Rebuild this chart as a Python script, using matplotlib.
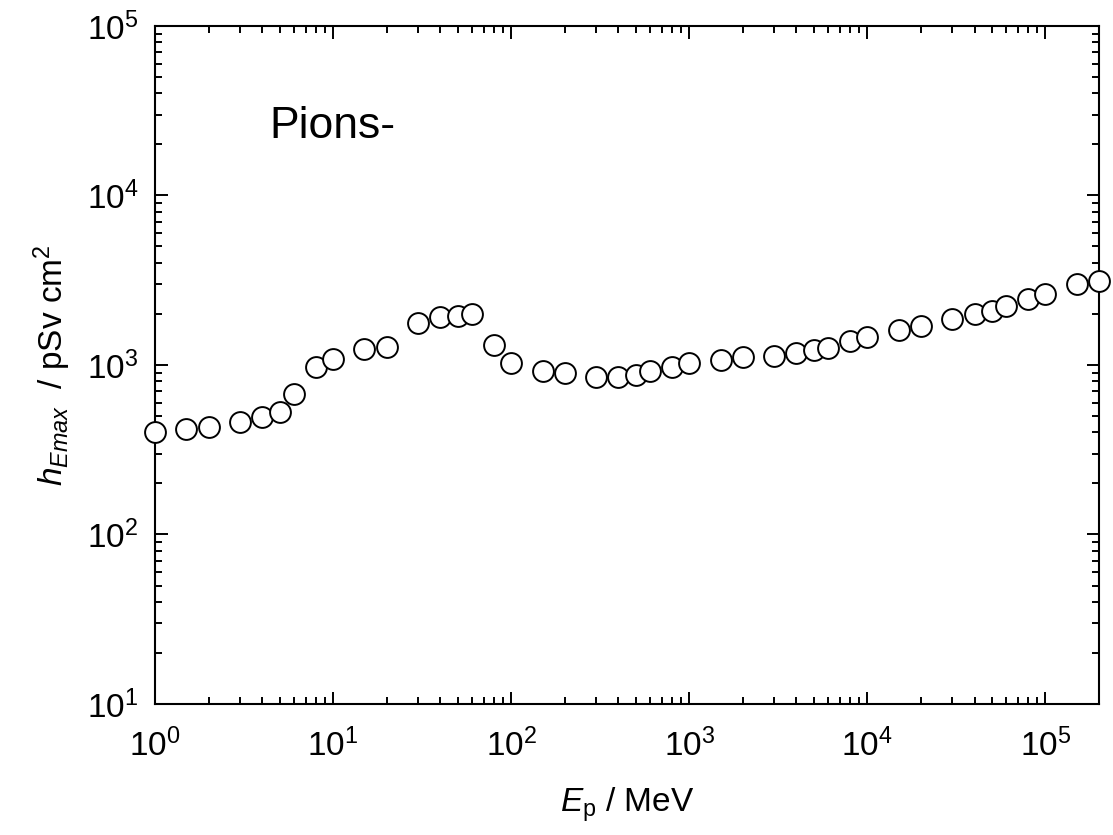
import numpy as np
import matplotlib
matplotlib.use("Agg")
import matplotlib.pyplot as plt
from matplotlib.ticker import LogLocator, NullFormatter, FixedLocator

plt.rcParams['font.family'] = ['Liberation Sans', 'DejaVu Sans']
plt.rcParams['mathtext.fontset'] = 'custom'
plt.rcParams['mathtext.rm'] = 'Liberation Sans'
plt.rcParams['mathtext.it'] = 'Liberation Sans:italic'

# proton energy (MeV) and maximum effective dose coefficient (pSv cm2)
energy = [1, 1.5, 2, 3, 4, 5, 6, 8, 10, 15, 20, 30, 40, 50, 60, 80, 100,
          150, 200, 300, 400, 500, 600, 800, 1000, 1500, 2000, 3000, 4000,
          5000, 6000, 8000, 1e4, 1.5e4, 2e4, 3e4, 4e4, 5e4, 6e4, 8e4, 1e5,
          1.5e5, 2e5]
h_emax = [405, 419, 432, 461, 491, 526, 672, 968, 1089, 1248, 1276, 1771,
          1929, 1944, 2000, 1313, 1023, 926, 894, 846, 846, 873, 922, 978,
          1023, 1072, 1120, 1130, 1172, 1225, 1264, 1390, 1455, 1610, 1700,
          1862, 1992, 2090, 2227, 2442, 2615, 2993, 3142]

x_ticks = [1, 10, 100, 1e3, 1e4, 1e5]
x_ticklabels = [r'$10^{0}$', r'$10^{1}$', r'$10^{2}$', r'$10^{3}$', r'$10^{4}$', r'$10^{5}$']
y_ticks = [10, 100, 1e3, 1e4, 1e5]
y_ticklabels = [r'$10^{1}$', r'$10^{2}$', r'$10^{3}$', r'$10^{4}$', r'$10^{5}$']

fig = plt.figure(figsize=(11.13, 8.35), dpi=100)
ax = fig.add_axes([0.1393, 0.1569, 0.8481, 0.812])

ax.plot(energy, h_emax, linestyle='none', marker='o', markersize=15,
        markerfacecolor='white', markeredgecolor='black', markeredgewidth=1.4,
        clip_on=False, zorder=3)

ax.set_xscale('log')
ax.set_yscale('log')
ax.set_xlim(1, 2e5)
ax.set_ylim(10, 1e5)

ax.xaxis.set_major_locator(FixedLocator(x_ticks))
ax.set_xticklabels(x_ticklabels)
ax.yaxis.set_major_locator(FixedLocator(y_ticks))
ax.set_yticklabels(y_ticklabels)
ax.xaxis.set_minor_locator(LogLocator(base=10, subs=np.arange(2, 10), numticks=20))
ax.yaxis.set_minor_locator(LogLocator(base=10, subs=np.arange(2, 10), numticks=20))
ax.xaxis.set_minor_formatter(NullFormatter())
ax.yaxis.set_minor_formatter(NullFormatter())

ax.tick_params(which='both', direction='in', top=True, right=True,
               labelsize=24, width=1.4)
ax.tick_params(which='major', length=9)
ax.tick_params(which='minor', length=5)
ax.tick_params(axis='x', which='major', pad=18)
ax.tick_params(axis='y', which='major', pad=12)
for s in ax.spines.values():
    s.set_linewidth(1.5)

ax.set_xlabel(r'$\mathit{E}_{\mathrm{p}}$ / MeV', fontsize=24, labelpad=16)
ax.set_ylabel(r'$\mathit{h}_{\mathit{Emax}}$  / pSv cm$^{2}$', fontsize=24, labelpad=10)

ax.text(0.121, 0.835, 'Pions-', fontsize=32, transform=ax.transAxes, va='baseline')

fig.savefig('out.png', dpi=100)
